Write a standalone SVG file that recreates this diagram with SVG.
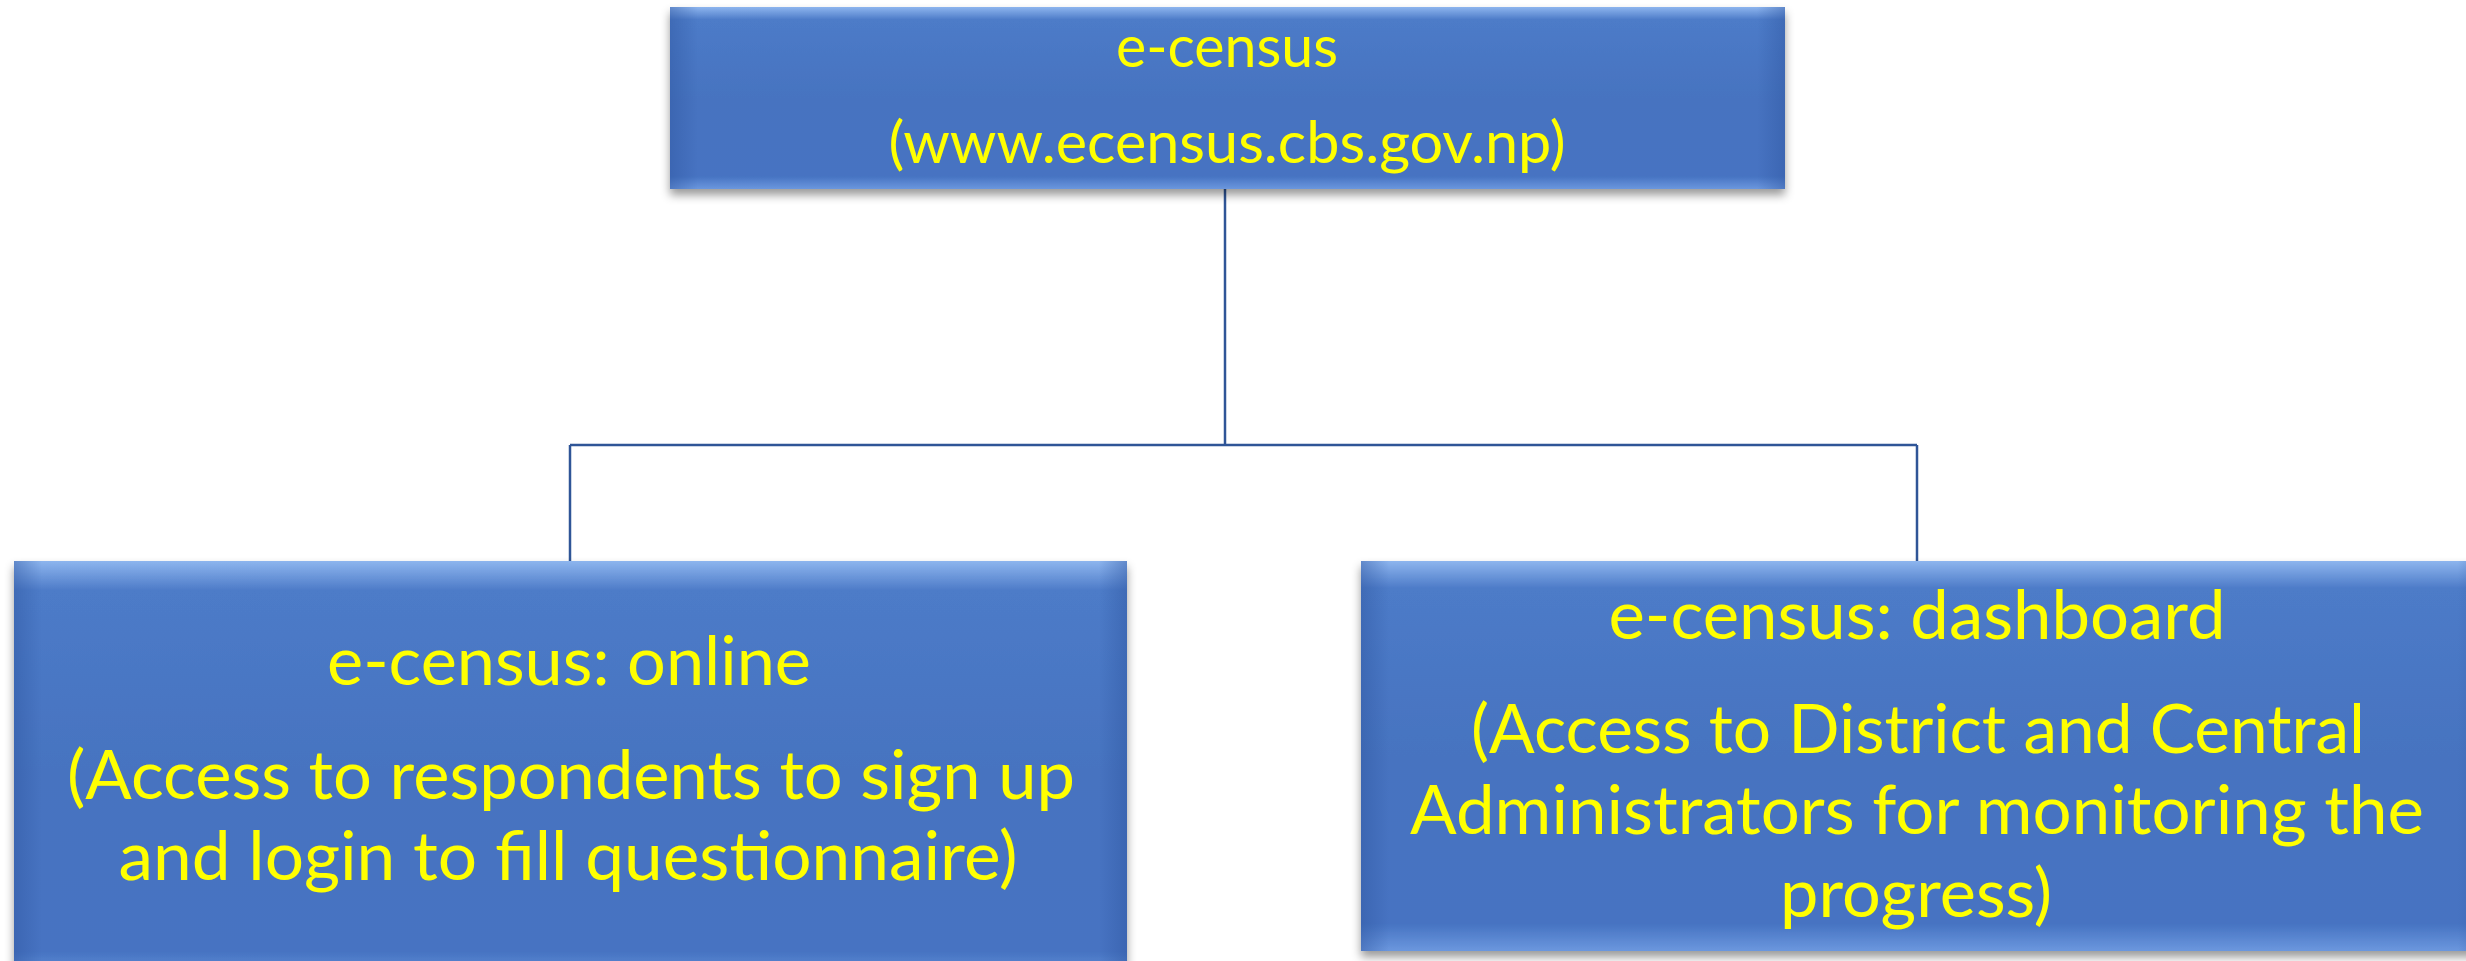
<svg xmlns="http://www.w3.org/2000/svg" width="2466" height="961" viewBox="0 0 2466 961">
<defs>
<linearGradient id="gv" x1="0" y1="0" x2="0" y2="1">
<stop offset="0" stop-color="#8DB5EE"/>
<stop offset="0.07" stop-color="#4D7BC8"/>
<stop offset="0.5" stop-color="#4673C0"/>
<stop offset="0.93" stop-color="#4673C2"/>
<stop offset="1" stop-color="#6B97DE"/>
</linearGradient>
<linearGradient id="gh" x1="0" y1="0" x2="1" y2="0">
<stop offset="0" stop-color="#2E56A0" stop-opacity="0.45"/>
<stop offset="0.025" stop-color="#2E56A0" stop-opacity="0"/>
<stop offset="0.975" stop-color="#2E56A0" stop-opacity="0"/>
<stop offset="1" stop-color="#2E56A0" stop-opacity="0.45"/>
</linearGradient>
<filter id="sh" x="-5%" y="-10%" width="110%" height="125%">
<feDropShadow dx="0" dy="6" stdDeviation="5" flood-color="#000" flood-opacity="0.4"/>
</filter>
</defs>
<style>
.box{fill:url(#gv);filter:url(#sh);}
.edge{fill:url(#gh);}
.t{font-family:Lato,"Open Sans","Liberation Sans",sans-serif;fill:#FFFF00;text-anchor:middle;}
.conn{stroke:#2F5597;stroke-width:2.5;fill:none;}
</style>
<rect width="2466" height="961" fill="#FFFFFF"/>
<g id="connectors">
<path class="conn" d="M1225,189 V445"/>
<path class="conn" d="M570,445 H1917"/>
<path class="conn" d="M570,445 V561"/>
<path class="conn" d="M1917,445 V561"/>
</g>
<g id="node-top">
<rect class="box" x="670" y="7" width="1115" height="182"/>
<rect class="edge" x="670" y="7" width="1115" height="182"/>
<text class="t" x="1227" y="67" font-size="58" textLength="222" lengthAdjust="spacingAndGlyphs">e-census</text>
<text class="t" x="1227" y="163" font-size="58" textLength="677" lengthAdjust="spacingAndGlyphs">(www.ecensus.cbs.gov.np)</text>
</g>
<g id="node-online">
<rect class="box" x="14" y="561" width="1113" height="420"/>
<rect class="edge" x="14" y="561" width="1113" height="420"/>
<text class="t" x="569" y="685" font-size="68" textLength="484" lengthAdjust="spacingAndGlyphs">e-census: online</text>
<text class="t" x="571" y="799" font-size="68" textLength="1008" lengthAdjust="spacingAndGlyphs">(Access to respondents to sign up</text>
<text class="t" x="568" y="880" font-size="68" textLength="899" lengthAdjust="spacingAndGlyphs">and login to fill questionnaire)</text>
</g>
<g id="node-dashboard">
<rect class="box" x="1361" y="561" width="1125" height="390"/>
<rect class="edge" x="1361" y="561" width="1125" height="390"/>
<text class="t" x="1917" y="639" font-size="68" textLength="617" lengthAdjust="spacingAndGlyphs">e-census: dashboard</text>
<text class="t" x="1918" y="753" font-size="68" textLength="894" lengthAdjust="spacingAndGlyphs">(Access to District and Central</text>
<text class="t" x="1917" y="834" font-size="68" textLength="1014" lengthAdjust="spacingAndGlyphs">Administrators for monitoring the</text>
<text class="t" x="1916" y="917" font-size="68" textLength="272" lengthAdjust="spacingAndGlyphs">progress)</text>
</g>
</svg>
